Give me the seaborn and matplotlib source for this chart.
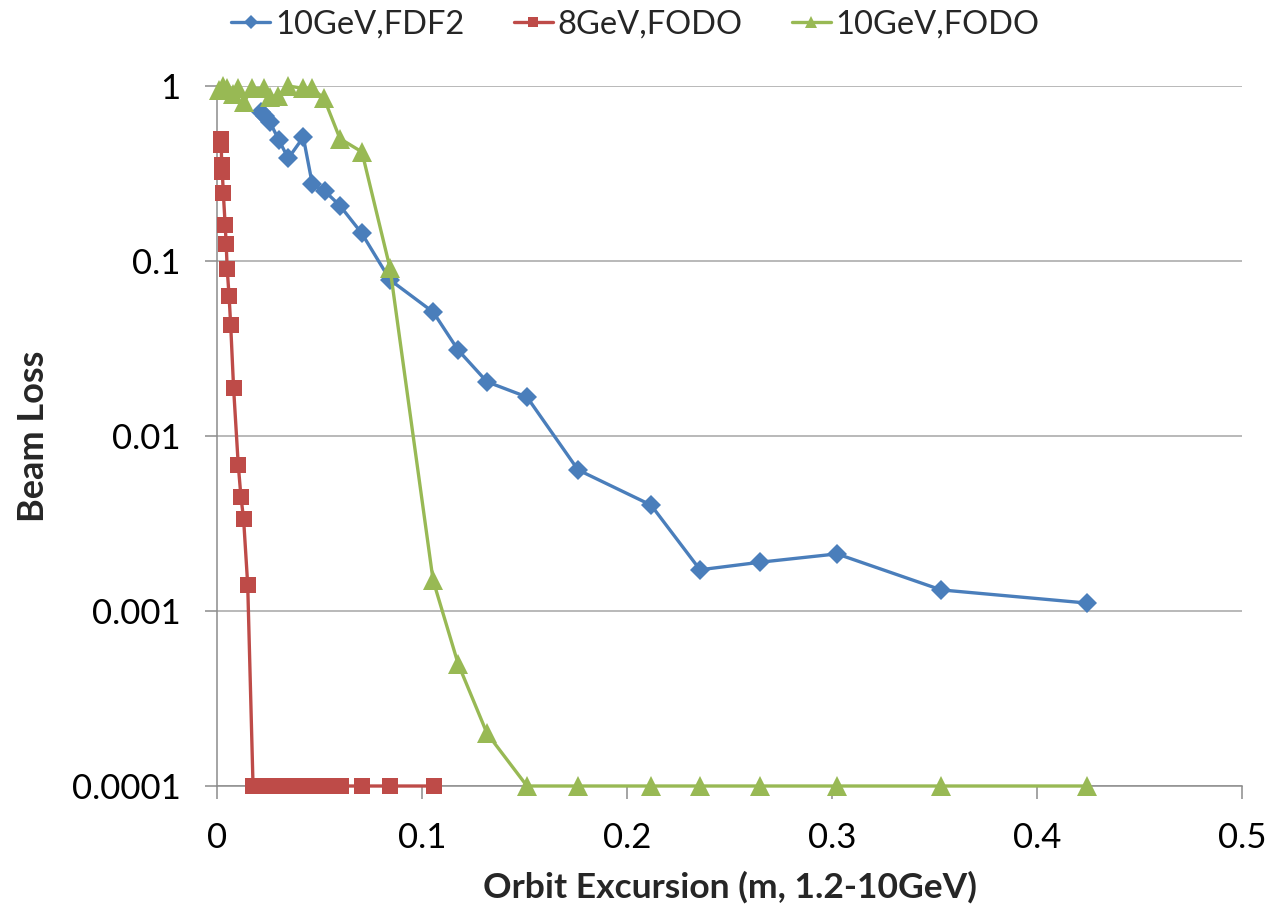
import matplotlib
matplotlib.use("Agg")
import matplotlib.pyplot as plt
import seaborn as sns
import pandas as pd
from matplotlib.lines import Line2D

# Orbit excursion (m) and beam loss fraction for each lattice / energy case
fdf2_10_x = [0.0213, 0.0235, 0.0259, 0.0302, 0.0348, 0.0421, 0.0465, 0.0527, 0.0600,
             0.0706, 0.0844, 0.1055, 0.1176, 0.1317, 0.1512, 0.1761, 0.2117, 0.2356,
             0.2649, 0.3024, 0.3532, 0.4244]
fdf2_10_y = [0.71, 0.67, 0.62, 0.49, 0.386, 0.51, 0.275, 0.25, 0.207,
             0.144, 0.078, 0.051, 0.031, 0.0204, 0.0167, 0.0064, 0.00403, 0.00172,
             0.0019, 0.00212, 0.00132, 0.00111]

fodo_8_x = [0.0018, 0.0021, 0.0023, 0.0026, 0.0031, 0.0040, 0.0045, 0.0050, 0.0059,
            0.0067, 0.0081, 0.0104, 0.0117, 0.0130, 0.0150,
            0.0176, 0.0214, 0.0249, 0.0288, 0.0327, 0.0366, 0.0405, 0.0444, 0.0488,
            0.0532, 0.0605, 0.0705, 0.0846, 0.1057]
fodo_8_y = [0.50, 0.46, 0.354, 0.324, 0.244, 0.161, 0.125, 0.0897, 0.0633,
            0.043, 0.0189, 0.0068, 0.0045, 0.00334, 0.00141,
            0.0001, 0.0001, 0.0001, 0.0001, 0.0001, 0.0001, 0.0001, 0.0001, 0.0001,
            0.0001, 0.0001, 0.0001, 0.0001, 0.0001]

fodo_10_x = [0.0010, 0.0029, 0.0049, 0.0078, 0.0102, 0.0132, 0.0171, 0.0229, 0.0259,
             0.0298, 0.0346, 0.0420, 0.0463, 0.0522, 0.0600, 0.0707, 0.0844, 0.1054,
             0.1176, 0.1317, 0.1512, 0.1761, 0.2117, 0.2356, 0.2649, 0.3024, 0.3532,
             0.4244]
fodo_10_y = [0.95, 1.0, 0.97, 0.90, 0.98, 0.81, 0.97, 0.97, 0.87,
             0.88, 1.0, 0.97, 0.97, 0.85, 0.50, 0.42, 0.091, 0.0015,
             0.0005, 0.0002, 0.0001, 0.0001, 0.0001, 0.0001, 0.0001, 0.0001, 0.0001,
             0.0001]

series_names = ["10GeV,FDF2", "8GeV,FODO", "10GeV,FODO"]
series_colors = ["#4A7EBB", "#BE4B48", "#98B954"]
series_markers = ["D", "s", "^"]
marker_sizes = [10.5, 11, 14]

y_ticks = [1e-4, 1e-3, 1e-2, 1e-1, 1]
y_tick_labels = ["0.0001", "0.001", "0.01", "0.1", "1"]
x_ticks = [0, 0.1, 0.2, 0.3, 0.4, 0.5]
x_tick_labels = ["0", "0.1", "0.2", "0.3", "0.4", "0.5"]

sns.set_theme(style="white")
plt.rcParams["font.family"] = ["Lato", "DejaVu Sans"]

fig = plt.figure(figsize=(12.71, 9.07), dpi=100)
ax = fig.add_axes([0.1707, 0.1334, 0.8066, 0.7718])

data = [(fdf2_10_x, fdf2_10_y), (fodo_8_x, fodo_8_y), (fodo_10_x, fodo_10_y)]
handles = []
for (xs, ys), name, col, mk, ms in zip(data, series_names, series_colors,
                                       series_markers, marker_sizes):
    df = pd.DataFrame({"x": xs, "y": ys})
    sns.lineplot(data=df, x="x", y="y", ax=ax, color=col, marker=mk,
                 markersize=ms, markeredgewidth=0, linewidth=2.4,
                 estimator=None, sort=False, clip_on=False, zorder=3)
    handles.append(Line2D([0], [0], color=col, marker=mk, markersize=ms * 0.65,
                          markeredgewidth=0, linewidth=2.4))

ax.set_yscale("log")
ax.set_ylim(1e-4, 1)
ax.set_xlim(0, 0.5)
ax.set_yticks(y_ticks)
ax.set_yticklabels(y_tick_labels)
ax.set_xticks(x_ticks)
ax.set_xticklabels(x_tick_labels)
ax.minorticks_off()

ax.yaxis.grid(True, color="#A6A6A6", linewidth=1.1)
ax.xaxis.grid(False)
for side in ("top", "right"):
    ax.spines[side].set_visible(False)
for side in ("left", "bottom"):
    ax.spines[side].set_color("#8C8C8C")
    ax.spines[side].set_linewidth(1.1)

ax.tick_params(axis="both", which="major", direction="out", length=9,
               width=1.1, color="#8C8C8C", labelsize=25, pad=17,
               labelcolor="black", left=True, bottom=True)

ax.set_xlabel("Orbit Excursion (m, 1.2-10GeV)", fontsize=25.5, fontweight="bold",
              labelpad=12)
ax.set_ylabel("Beam Loss", fontsize=26, fontweight="bold", labelpad=16)

fig.legend(handles, series_names, loc="upper center", bbox_to_anchor=(0.5, 1.022),
           ncol=3, frameon=False, fontsize=23.5, handlelength=1.2,
           handletextpad=0.15, columnspacing=1.5)

fig.savefig("out.png", dpi=100)
